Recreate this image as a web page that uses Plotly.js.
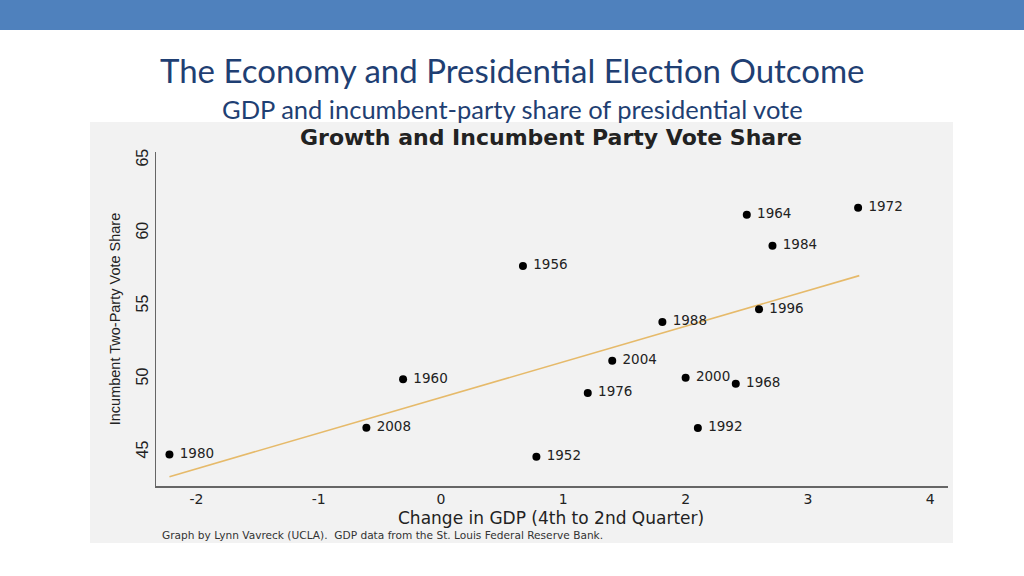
<!DOCTYPE html>
<html>
<head>
<meta charset="utf-8">
<script src="https://cdn.plot.ly/plotly-3.0.1.min.js"></script>
<style>html,body{margin:0;padding:0;background:#fff;}#chart{width:1024px;height:576px;}</style>
</head>
<body>
<div id="chart"></div>
<script>
// ---- data ----
const years = ['1952','1956','1960','1964','1968','1972','1976','1980','1984','1988','1992','1996','2000','2004','2008'];
const gdpChange = [0.78, 0.67, -0.31, 2.50, 2.41, 3.41, 1.20, -2.22, 2.71, 1.81, 2.10, 2.60, 2.00, 1.40, -0.61];
const voteShare = [44.68, 57.74, 49.98, 61.25, 49.68, 61.73, 49.04, 44.82, 59.13, 53.90, 46.64, 54.77, 50.09, 51.25, 46.66];
const fitX = [-2.22, 3.42];
const fitY = [43.31, 57.08];
const xTicks = [-2, -1, 0, 1, 2, 3, 4];
const yTicks = [45, 50, 55, 60, 65];

// ---- layout helpers (pixel -> paper) ----
const L = 156, R = 948, T = 152, B = 486;
const W = 1024, H = 576;
const px = x => (x - L) / (R - L);
const py = y => (B - y) / (B - T);

const traces = [
  {
    x: fitX, y: fitY, type: 'scatter', mode: 'lines',
    line: {color: '#E6BA6A', width: 1.6},
    hoverinfo: 'skip', showlegend: false
  },
  {
    x: gdpChange, y: voteShare, text: years, type: 'scatter', mode: 'markers+text',
    marker: {color: '#000000', size: 8},
    texttemplate: ' %{text}',
    textposition: 'middle right',
    textfont: {family: 'DejaVu Sans, sans-serif', size: 13.5, color: '#222222'},
    showlegend: false
  }
];

const layout = {
  width: W, height: H,
  margin: {l: L, r: W - R, t: T, b: H - B, pad: 0},
  paper_bgcolor: '#ffffff',
  plot_bgcolor: '#F2F2F2',
  showlegend: false,
  xaxis: {
    range: [-2.33, 4.145], tickvals: xTicks, ticktext: xTicks.map(String),
    showgrid: false, zeroline: false, showline: true, linecolor: '#666666', linewidth: 1.5,
    ticks: '', tickfont: {family: 'DejaVu Sans, sans-serif', size: 14, color: '#222222'},
    automargin: false
  },
  yaxis: {
    range: [42.67, 65.55], tickvals: yTicks, ticktext: yTicks.map(String), tickangle: -90,
    showgrid: false, zeroline: false, showline: true, linecolor: '#666666', linewidth: 1.5,
    ticks: '', tickfont: {family: 'Liberation Sans, Arial, sans-serif', size: 16, color: '#222222'},
    title: {text: 'Incumbent Two-Party Vote Share', standoff: 10,
            font: {family: 'Liberation Sans, Arial, sans-serif', size: 14.5, color: '#222222'}},
    automargin: false
  },
  shapes: [
    {type: 'rect', xref: 'paper', yref: 'paper', x0: px(0), x1: px(W), y0: py(0), y1: py(30),
     fillcolor: '#4F81BD', line: {width: 0}, layer: 'below'},
    {type: 'rect', xref: 'paper', yref: 'paper', x0: px(90), x1: px(953), y0: py(122), y1: py(543),
     fillcolor: '#F2F2F2', line: {width: 0}, layer: 'below'}
  ],
  annotations: [
    {text: 'The Economy and Presidential Election Outcome', xref: 'paper', yref: 'paper',
     x: px(512), y: py(70), xanchor: 'center', yanchor: 'middle', showarrow: false,
     font: {family: 'Lato, sans-serif', size: 33, color: '#1F3F73'}},
    {text: 'GDP and incumbent-party share of presidential vote', xref: 'paper', yref: 'paper',
     x: px(512), y: py(109), xanchor: 'center', yanchor: 'middle', showarrow: false,
     font: {family: 'Lato, sans-serif', size: 25.5, color: '#1F3F73'}},
    {text: '<b>Growth and Incumbent Party Vote Share</b>', xref: 'paper', yref: 'paper',
     x: px(551), y: py(137), xanchor: 'center', yanchor: 'middle', showarrow: false,
     font: {family: 'DejaVu Sans, sans-serif', size: 22, color: '#222222'}},
    {text: 'Change in GDP (4th to 2nd Quarter)', xref: 'paper', yref: 'paper',
     x: px(551), y: py(518), xanchor: 'center', yanchor: 'middle', showarrow: false,
     font: {family: 'DejaVu Sans, sans-serif', size: 17, color: '#222222'}},
    {text: 'Graph by Lynn Vavreck (UCLA).  GDP data from the St. Louis Federal Reserve Bank.', xref: 'paper', yref: 'paper',
     x: px(160), y: py(535), xanchor: 'left', yanchor: 'middle', showarrow: false,
     font: {family: 'DejaVu Sans, sans-serif', size: 10.6, color: '#333333'}}
  ]
};

Plotly.newPlot('chart', traces, layout, {displayModeBar: false, staticPlot: true});
</script>
</body>
</html>
